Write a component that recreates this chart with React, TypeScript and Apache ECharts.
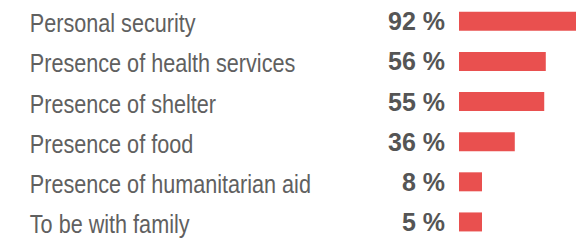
import React, { useEffect, useRef } from 'react';
import * as echarts from 'echarts';

const categories = [
  'Personal security',
  'Presence of health services',
  'Presence of shelter',
  'Presence of food',
  'Presence of humanitarian aid',
  'To be with family',
];
const values = [92, 56, 55, 36, 8, 5];

const LABEL_FONT = '25px "Liberation Sans", Arial, sans-serif';

export default function App() {
  const ref = useRef<HTMLDivElement>(null);
  useEffect(() => {
    const chart = echarts.init(ref.current!, null, { renderer: 'svg' });
    chart.setOption({
      animation: false,
      grid: { left: 459, top: 1.25, right: 0, height: 245.4 },
      xAxis: { type: 'value', min: 0, max: 75.5, show: false },
      yAxis: {
        type: 'category',
        data: categories,
        inverse: true,
        axisLine: { show: false },
        axisTick: { show: false },
        splitLine: { show: false },
        axisLabel: { show: false },
      },
      series: [
        {
          type: 'bar',
          data: values,
          barWidth: 19,
          barMinHeight: 23,
          clip: true,
          silent: true,
          itemStyle: { color: '#E9504F' },
          label: {
            show: true,
            position: 'left',
            distance: 14,
            formatter: '{c} %',
            fontFamily: '"Liberation Sans", Arial, sans-serif',
            fontWeight: 'bold',
            fontSize: 25,
            color: '#555555',
            padding: [5, 0, 0, 0],
          },
        },
      ],
    });
    // category labels: positioned through the category axis scale
    const labels = categories.map((c) => {
      const y = chart.convertToPixel({ yAxisIndex: 0 }, c) as number;
      return {
        type: 'text',
        x: 29.8,
        y: y + 2.5,
        scaleX: 0.865,
        silent: true,
        style: {
          text: c,
          font: LABEL_FONT,
          fill: '#606060',
          align: 'left',
          verticalAlign: 'middle',
        },
      };
    });
    chart.setOption({ graphic: labels });
    return () => chart.dispose();
  }, []);
  return (
    <div
      ref={ref}
      style={{ position: 'absolute', left: 0, top: 0, width: 576, height: 242, overflow: 'hidden' }}
    />
  );
}
